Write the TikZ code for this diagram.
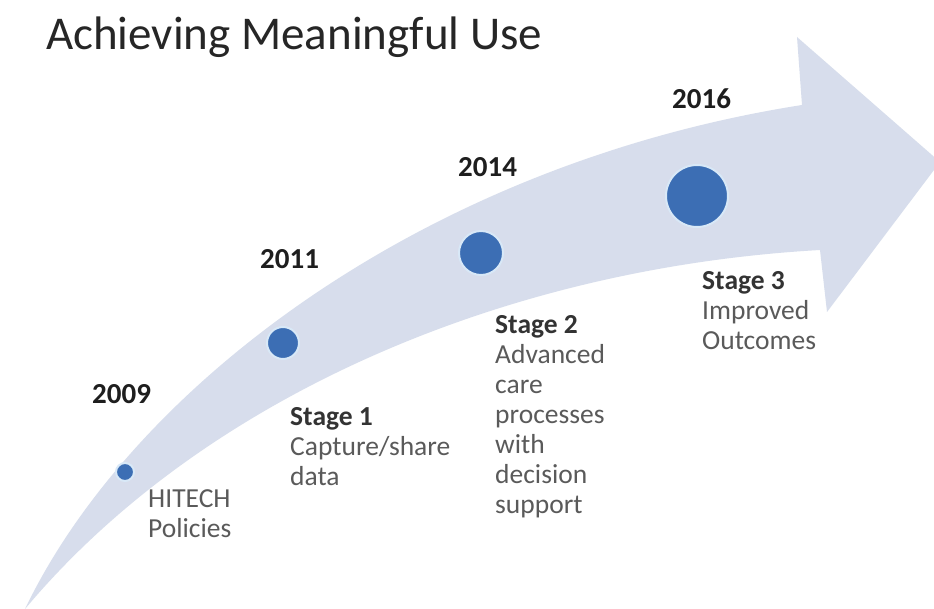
\documentclass[tikz,border=0pt]{standalone}
\usepackage{fontspec}
\setmainfont{Carlito}
\begin{document}
\begin{tikzpicture}[x=1pt,y=-1pt]
\definecolor{arrowc}{HTML}{D7DDEC}
\definecolor{dotc}{HTML}{3C6EB4}
\definecolor{haloc}{HTML}{D8E8F7}
\definecolor{yearc}{HTML}{1E1E1E}
\definecolor{stagec}{HTML}{333333}
\definecolor{descc}{HTML}{5A5A5A}
\tikzset{
  dot/.style={circle,fill=dotc,draw=haloc,line width=2pt,inner sep=0pt},
  year/.style={anchor=north west,inner sep=0pt,text=yearc,font=\fontsize{29}{30}\selectfont\bfseries},
  label/.style={anchor=north west,inner sep=0pt,align=left,text=descc,font=\fontsize{27.5}{30}\selectfont},
  title/.style={anchor=north west,inner sep=0pt,text=black!85,font=\fontsize{47}{50}\selectfont}
}
\useasboundingbox[fill=white] (0,0) rectangle (934,609);
\begin{scope}
\clip (0,0) rectangle (934,609);
\fill[arrowc] (25,609) .. controls (130,390) and (420,165) .. (802,105)
  -- (797,37) -- (940,162) -- (827,312) -- (820,250)
  .. controls (500,268) and (200,400) .. (25,609) -- cycle;
\end{scope}
\node[title] (t) at (46,17) {Achieving Meaningful Use};
\node[dot,minimum size=18pt] (d1) at (125,472) {};
\node[dot,minimum size=32pt] (d2) at (283,343) {};
\node[dot,minimum size=44pt] (d3) at (481,253) {};
\node[dot,minimum size=62pt] (d4) at (697,196) {};
\node[year] (y1) at (92,384) {2009};
\node[year] (y2) at (260,249) {2011};
\node[year] (y3) at (458,157) {2014};
\node[year] (y4) at (672,89) {2016};
\node[label] (l1) at (148,489) {HITECH\\Policies};
\node[label] (l2) at (290,407) {\textcolor{stagec}{\bfseries Stage 1}\\Capture/share\\data};
\node[label] (l3) at (495,315) {\textcolor{stagec}{\bfseries Stage 2}\\Advanced\\care\\processes\\with\\decision\\support};
\node[label] (l4) at (702,271) {\textcolor{stagec}{\bfseries Stage 3}\\Improved\\Outcomes};
\end{tikzpicture}
\end{document}
